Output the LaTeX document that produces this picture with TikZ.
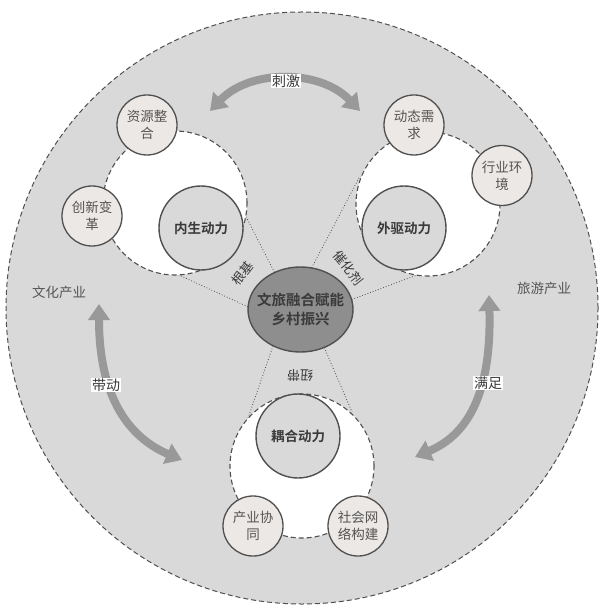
\documentclass[tikz,border=0pt]{standalone}
\usepackage{fontspec}
\setmainfont{Noto Sans CJK SC}[BoldFont={Noto Sans CJK SC Bold}]
\usetikzlibrary{arrows.meta,shapes.geometric}
\definecolor{bgc}{HTML}{D9D9D9}
\definecolor{subc}{HTML}{ECE8E5}
\definecolor{linec}{HTML}{505050}
\definecolor{txtc}{HTML}{3A3A3A}
\definecolor{txtb}{HTML}{555555}
\definecolor{arrc}{HTML}{999999}
\definecolor{ellc}{HTML}{8E8E8E}
\begin{document}
\begin{tikzpicture}[x=1pt,y=-1pt,
  bigring/.style={circle,draw=linec,fill=bgc,line width=1pt,dash pattern=on 5pt off 3pt,minimum size=592pt,inner sep=0pt},
  wreg/.style={circle,draw=linec,fill=white,line width=1.1pt,dash pattern=on 5pt off 3pt,minimum size=144pt,inner sep=0pt},
  maincirc/.style={circle,draw=linec,line width=1.4pt,fill=bgc,minimum size=84pt,inner sep=0pt,font=\fontsize{13.5}{16}\selectfont\bfseries,text=txtc},
  subcirc/.style={circle,draw=linec,line width=1.3pt,fill=subc,minimum size=60pt,inner sep=0pt,align=center,font=\fontsize{13.5}{17}\selectfont,text=txtb},
  dotl/.style={draw=linec,dotted,line width=0.8pt},
  garrow/.style={draw=arrc,line width=8pt,{Triangle[width=21pt,length=16pt]}-{Triangle[width=21pt,length=16pt]}},
  wlabel/.style={fill=white,inner sep=1pt,font=\fontsize{14}{16}\selectfont,text=txtc},
  plainlab/.style={font=\fontsize{13.5}{16}\selectfont,text=txtb},
  rotlab/.style={font=\fontsize{13}{15}\selectfont,text=txtc,inner sep=0pt,outer sep=0pt}]
\useasboundingbox (0,0) rectangle (600,609);
\node[bigring] (ring) at (302,308) {};
% central ellipse (shape only, for anchors)
\path node[ellipse,minimum width=105pt,minimum height=85pt,inner sep=0pt] (cen) at (300.5,309.5) {};
% dotted links
\coordinate (ul) at (240,205);
\coordinate (ll) at (168,270);
\coordinate (ur) at (360,176);
\coordinate (lr) at (425,272);
\coordinate (bl) at (248,418);
\coordinate (br) at (352,412);
\draw[dotl] (cen.125) -- (ul);
\draw[dotl] (cen.177) -- (ll);
\draw[dotl] (cen.75) -- (ur);
\draw[dotl] (cen.11) -- (lr);
\draw[dotl] (cen.233) -- (bl);
\draw[dotl] (cen.302) -- (br);
% white regions
\node[wreg] (wl) at (175,203) {};
\node[wreg] (wr) at (428,204) {};
\node[wreg] (wb) at (302,466) {};
% main circles
\node[maincirc] (nei) at (201,228) {内生动力};
\node[maincirc] (wai) at (404,228) {外驱动力};
\node[maincirc] (ouh) at (298,436) {耦合动力};
% sub circles
\node[subcirc] (zy) at (147,125) {资源整\\合};
\node[subcirc] (cx) at (92,216) {创新变\\革};
\node[subcirc] (dt) at (414,125) {动态需\\求};
\node[subcirc] (hy) at (502,175.5) {行业环\\境};
\node[subcirc] (cy) at (253,526) {产业协\\同};
\node[subcirc] (sh) at (358,526) {社会网\\络构建};
% central ellipse
\node[ellipse,draw=linec,line width=1.4pt,fill=ellc,minimum width=105pt,minimum height=85pt,inner sep=0pt] (cen2) at (300.5,309.5) {};
\node[align=center,inner sep=0pt,font=\fontsize{14.5}{19.5}\selectfont\bfseries,text=txtc] (ctext) at (cen2) {文旅融合赋能\\乡村振兴};
% rotated link labels
\node[rotlab,rotate=52] (lgj) at (243,273) {根基};
\node[rotlab,rotate=-52] (lch) at (348,268) {催化剂};
\node[rotlab,rotate=180] (lnd) at (300,375) {纽带};
% side labels
\node[plainlab] (whcy) at (59,292) {文化产业};
\node[plainlab] (lycy) at (544,288) {旅游产业};
% big arrows
\coordinate (a1s) at (210,111);
\coordinate (a1e) at (360,111);
\coordinate (a2s) at (99,304);
\coordinate (a2e) at (182,460);
\coordinate (a3s) at (489,295);
\coordinate (a3e) at (415,457);
\draw[garrow] (a1s) .. controls (250,69) and (320,69) .. (a1e);
\draw[garrow] (a2s) .. controls (99,405) and (135,440) .. (a2e);
\draw[garrow] (a3s) .. controls (492,405) and (460,438) .. (a3e);
\node[wlabel] (lcj) at (286,81) {刺激};
\node[wlabel] (ldd) at (106,385) {带动};
\node[wlabel] (lmz) at (488,383) {满足};
\end{tikzpicture}
\end{document}
